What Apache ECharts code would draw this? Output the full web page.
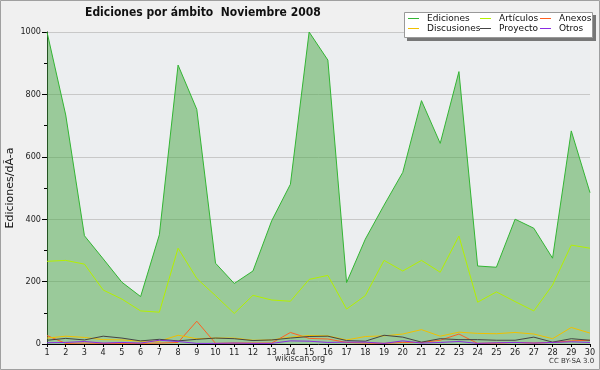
<!DOCTYPE html>
<html><head><meta charset="utf-8">
<script src="https://cdn.jsdelivr.net/npm/echarts@6/dist/echarts.min.js"></script>
<style>html,body{margin:0;padding:0;background:#f0f0f0}#c{width:600px;height:370px}</style>
</head><body><div id="c"></div>
<script>
const days = ['1','2','3','4','5','6','7','8','9','10','11','12','13','14','15','16','17','18','19','20','21','22','23','24','25','26','27','28','29','30'];
const ediciones = [1000,734,347,273,198,152,350,894,752,259,194,234,395,512,1000,910,197,336,445,550,780,643,873,250,246,400,371,275,683,485];
const articulos = [265,268,256,173,144,106,102,307,210,155,98,156,141,137,207,220,112,155,268,234,268,230,346,134,167,136,106,189,317,307];
const anexos = [27,2,3,2,2,2,3,5,73,2,3,3,3,37,18,16,5,3,2,5,5,12,32,2,3,5,3,5,10,12];
const discusiones = [19,25,21,14,13,9,9,28,17,19,19,12,13,22,27,26,13,24,26,32,46,25,38,34,33,37,32,17,53,35];
const proyecto = [12,18,13,25,19,10,15,10,15,19,17,11,13,19,24,25,11,9,28,22,6,17,14,14,12,12,22,6,17,12];
const otros = [4,5,8,3,5,3,12,8,2,2,3,2,2,10,9,5,6,6,2,10,3,5,8,2,4,5,3,5,7,5];
const yTicks = [0,200,400,600,800,1000];

const FONT = 'DejaVu Sans';
const CFONT = '"DejaVu Sans Condensed", "DejaVu Sans"';
const chart = echarts.init(document.getElementById('c'), null, {renderer:'canvas'});
function ln(name, data, color, extra) {
  return Object.assign({
    name, type:'line', data, symbol:'none', silent:true,
    lineStyle:{color, width:1}, itemStyle:{color}
  }, extra||{});
}
const legendBase = {
  orient:'vertical', itemGap:1, itemWidth:11, itemHeight:1, icon:'rect',
  textStyle:{fontFamily:FONT, fontSize:9, color:'#111', padding:[0,0,0,3]},
  selectedMode:false, padding:0, z:10
};
chart.setOption({
  animation:false,
  backgroundColor:'#f0f0f0',
  title:{text:'Ediciones por ámbito  Noviembre 2008', left:85, top:7, padding:0,
    textStyle:{fontFamily:CFONT, fontSize:12, fontWeight:'bold', color:'#111'}},
  graphic:[
    {type:'rect', shape:{x:0.5,y:0.5,width:599,height:369}, style:{fill:null, stroke:'#a0a0a0', lineWidth:1}, z:-1},
    {type:'rect', shape:{x:47,y:32,width:543,height:312}, style:{fill:'#eceef0'}, z:-10, silent:true},
    {type:'rect', shape:{x:407,y:15,width:189,height:26}, style:{fill:'#777'}, z:1},
    {type:'rect', shape:{x:404.5,y:12.5,width:188,height:25}, style:{fill:'#fff', stroke:'#999', lineWidth:1}, z:2},
    {type:'text', x:300, y:354, style:{text:'wikiscan.org', font:'9px "DejaVu Sans Condensed", "DejaVu Sans"', fill:'#333', align:'center'}},
    {type:'text', x:549, y:358, style:{text:'CC BY-SA 3.0', font:'7px "DejaVu Sans"', fill:'#333'}}
  ],
  legend:[
    Object.assign({}, legendBase, {left:408, top:14, data:['Ediciones','Discusiones']}),
    Object.assign({}, legendBase, {left:480, top:14, data:['Artículos','Proyecto']}),
    Object.assign({}, legendBase, {left:540, top:14, data:['Anexos','Otros']})
  ],
  grid:{left:47, right:10, top:32, bottom:26, containLabel:false, outerBoundsMode:'none'},
  xAxis:{type:'category', data:days, boundaryGap:false,
    axisLine:{lineStyle:{color:'#000', width:1}},
    axisTick:{show:true, length:3, lineStyle:{color:'#000'}},
    axisLabel:{fontFamily:CFONT, fontSize:9, color:'#222', margin:4, interval:0},
    splitLine:{show:false}},
  yAxis:{type:'value', min:0, max:1000, interval:200,
    name:'Ediciones/dÃ-a', nameLocation:'middle', nameGap:31, nameRotate:90, nameMoveOverlap:false,
    nameTextStyle:{fontFamily:FONT, fontSize:11, color:'#111'},
    axisLine:{show:true, lineStyle:{color:'#000', width:1}},
    axisTick:{show:true, length:5, lineStyle:{color:'#000'}},
    minorTick:{show:true, splitNumber:2, length:3, lineStyle:{color:'#000'}},
    axisLabel:{fontFamily:CFONT, fontSize:9, color:'#222', margin:6,
      formatter:v=> yTicks.includes(v) ? String(v) : ''},
    splitLine:{show:true, lineStyle:{color:'#c8c8c8', width:1}}},
  series:[
    ln('Ediciones', ediciones, '#33b533', {areaStyle:{color:'rgba(72,166,68,0.5)', opacity:1}, z:1}),
    ln('Artículos', articulos, '#b4f000', {z:3}),
    ln('Anexos', anexos, '#ff6020', {z:3}),
    ln('Discusiones', discusiones, '#f0c000', {z:3}),
    ln('Proyecto', proyecto, '#444444', {z:3}),
    ln('Otros', otros, '#8a2be2', {z:3})
  ]
});
</script></body></html>
